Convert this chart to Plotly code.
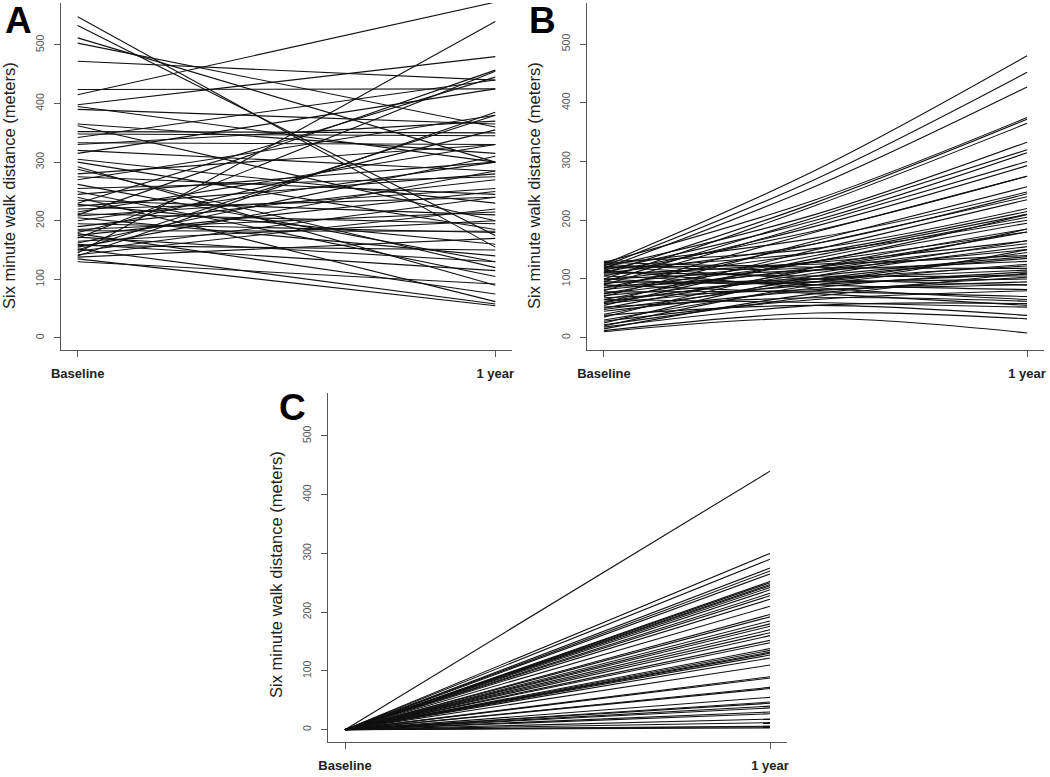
import plotly.graph_objects as go

# ---------------- data ----------------
time_labels = ["Baseline", "1 year"]

# Panel A: baseline and 1-year six minute walk distance (m)
a_baseline = [548, 533, 512, 503, 472, 424, 415, 398, 395, 390, 365, 362, 352, 348, 342, 333,
              330, 315, 305, 300, 292, 288, 275, 270, 262, 255, 250, 245, 240, 235, 230, 228,
              225, 220, 215, 212, 208, 205, 200, 195, 190, 185, 183, 180, 178, 175, 170, 165,
              162, 158, 155, 152, 150, 148, 145, 142, 140, 138, 135, 130, 210, 320, 280, 160, 172]
a_one_year = [155, 175, 300, 360, 440, 425, 573, 480, 300, 365, 315, 200, 350, 345, 440, 330,
              370, 425, 230, 185, 90, 120, 245, 380, 130, 275, 105, 300, 62, 210, 445, 160,
              280, 240, 330, 195, 255, 140, 300, 180, 270, 215, 182, 355, 75, 250, 455, 200,
              310, 150, 285, 58, 380, 240, 540, 220, 385, 170, 55, 92, 457, 285, 330, 115, 130]

# Panel B: baseline, mid-year and 1-year values (m)
b_baseline = [125, 122, 118, 128, 110, 100, 120, 95, 115, 90, 105, 80, 112, 70, 125, 85,
              60, 130, 98, 75, 55, 118, 65, 35, 92, 108, 50, 25, 82, 120, 62, 40,
              100, 20, 72, 128, 88, 30, 58, 112, 15, 95, 45, 122, 68, 105, 28, 78,
              115, 52, 18, 90, 38, 12, 10, 65, 100, 125, 85, 48, 22, 75, 110, 60]
b_mid = [285, 270, 258, 235, 230, 225, 210, 205, 200, 195, 190, 180, 182, 165, 170, 160,
         150, 152, 145, 140, 135, 145, 130, 120, 130, 128, 115, 105, 115, 125, 105, 100,
         115, 90, 100, 120, 100, 85, 90, 105, 75, 95, 80, 100, 82, 90, 65, 78,
         85, 68, 55, 75, 55, 42, 33, 60, 95, 120, 130, 95, 70, 120, 160, 110]
b_one_year = [480, 452, 427, 375, 372, 365, 333, 320, 315, 300, 293, 275, 275, 257, 248, 240,
              235, 220, 215, 210, 205, 200, 195, 185, 180, 165, 160, 155, 150, 140, 138, 135,
              130, 125, 122, 118, 115, 112, 108, 105, 103, 100, 95, 90, 90, 82, 80, 70,
              65, 62, 58, 55, 38, 32, 8, 52, 150, 185, 210, 145, 110, 180, 245, 165]

# Panel C: change from baseline (baseline = 0) at 1 year (m)
c_baseline = 0
c_one_year = [440, 300, 290, 275, 270, 265, 252, 250, 247, 245, 242, 238, 232, 228, 222, 210,
              196, 192, 185, 180, 176, 170, 165, 160, 152, 148, 138, 135, 132, 130, 127, 122,
              110, 90, 88, 72, 70, 55, 47, 45, 40, 37, 30, 27, 18, 12, 6, 5, 3]

y_ticks = [0, 100, 200, 300, 400, 500]
y_title = "Six minute walk distance (meters)"
panel_letters = ["A", "B", "C"]

# ---------------- figure ----------------
W, H = 1050, 777
LINE = dict(color="#111111", width=1.1)

fig = go.Figure()

for s, e in zip(a_baseline, a_one_year):
    fig.add_trace(go.Scatter(x=[0, 1], y=[s, e], mode="lines", line=LINE,
                             xaxis="x", yaxis="y", hoverinfo="skip"))

for s, m, e in zip(b_baseline, b_mid, b_one_year):
    fig.add_trace(go.Scatter(x=[0, 0.5, 1], y=[s, m, e], mode="lines",
                             line=dict(color="#111111", width=1.1, shape="spline", smoothing=1.0),
                             xaxis="x2", yaxis="y2", hoverinfo="skip"))

for e in c_one_year:
    fig.add_trace(go.Scatter(x=[0, 1], y=[c_baseline, e], mode="lines", line=LINE,
                             xaxis="x3", yaxis="y3", hoverinfo="skip"))


def px_x(p):
    return p / W


def px_y(p):
    return 1 - p / H


AX_COLOR = "#555555"


def xaxis(dom, anchor):
    return dict(domain=dom, anchor=anchor, range=[-0.04, 1.04], automargin=False,
                tickvals=[0, 1], ticktext=time_labels,
                showline=True, linecolor=AX_COLOR, linewidth=1.2,
                ticks="outside", ticklen=6, tickcolor=AX_COLOR, tickwidth=1,
                ticklabelstandoff=5,
                tickfont=dict(family="Liberation Sans, Arial", size=13, color="#222222",
                              weight="bold"),
                showgrid=False, zeroline=False, fixedrange=True)


def yaxis(dom, anchor, rng):
    return dict(domain=dom, anchor=anchor, range=rng, automargin=False,
                tickvals=y_ticks, tickangle=-90,
                showline=True, linecolor=AX_COLOR, linewidth=1.2,
                ticks="outside", ticklen=6, tickcolor=AX_COLOR, tickwidth=1,
                ticklabelstandoff=6,
                tickfont=dict(family="Liberation Sans, Arial", size=10.5, color="#555555"),
                showgrid=False, zeroline=False, fixedrange=True)


fig.update_layout(
    width=W, height=H,
    margin=dict(l=0, r=0, t=0, b=0, autoexpand=False),
    paper_bgcolor="white", plot_bgcolor="white",
    showlegend=False, hovermode=False,
    xaxis=xaxis([px_x(61), px_x(512)], "y"),
    yaxis=yaxis([px_y(350), px_y(3)], "x", [-20.5, 571.5]),
    xaxis2=xaxis([px_x(587), px_x(1044)], "y2"),
    yaxis2=yaxis([px_y(350), px_y(3)], "x2", [-21, 570]),
    xaxis3=xaxis([px_x(328), px_x(787)], "y3"),
    yaxis3=yaxis([px_y(742), px_y(393)], "x3", [-21, 573]),
)

title_font = dict(family="Liberation Sans, Arial", size=16.5, color="#222222")
letter_font = dict(family="Liberation Sans, Arial", size=37, color="black")

annos = []
for (tx, ty) in [(9, 186), (534, 186), (276, 575)]:
    annos.append(dict(x=px_x(tx), y=px_y(ty), xref="paper", yref="paper",
                      text=y_title, textangle=-90, showarrow=False,
                      font=title_font, xanchor="center", yanchor="middle"))
for letter, (lx, ly) in zip(panel_letters, [(18, 21), (542, 21), (292, 408)]):
    annos.append(dict(x=px_x(lx), y=px_y(ly), xref="paper", yref="paper",
                      text="<b>%s</b>" % letter, showarrow=False,
                      font=letter_font, xanchor="center", yanchor="middle"))
fig.update_layout(annotations=annos)

fig.write_html("out.html", config={"displayModeBar": False},
               post_script="document.body.style.margin='0';document.body.style.overflow='hidden';")
